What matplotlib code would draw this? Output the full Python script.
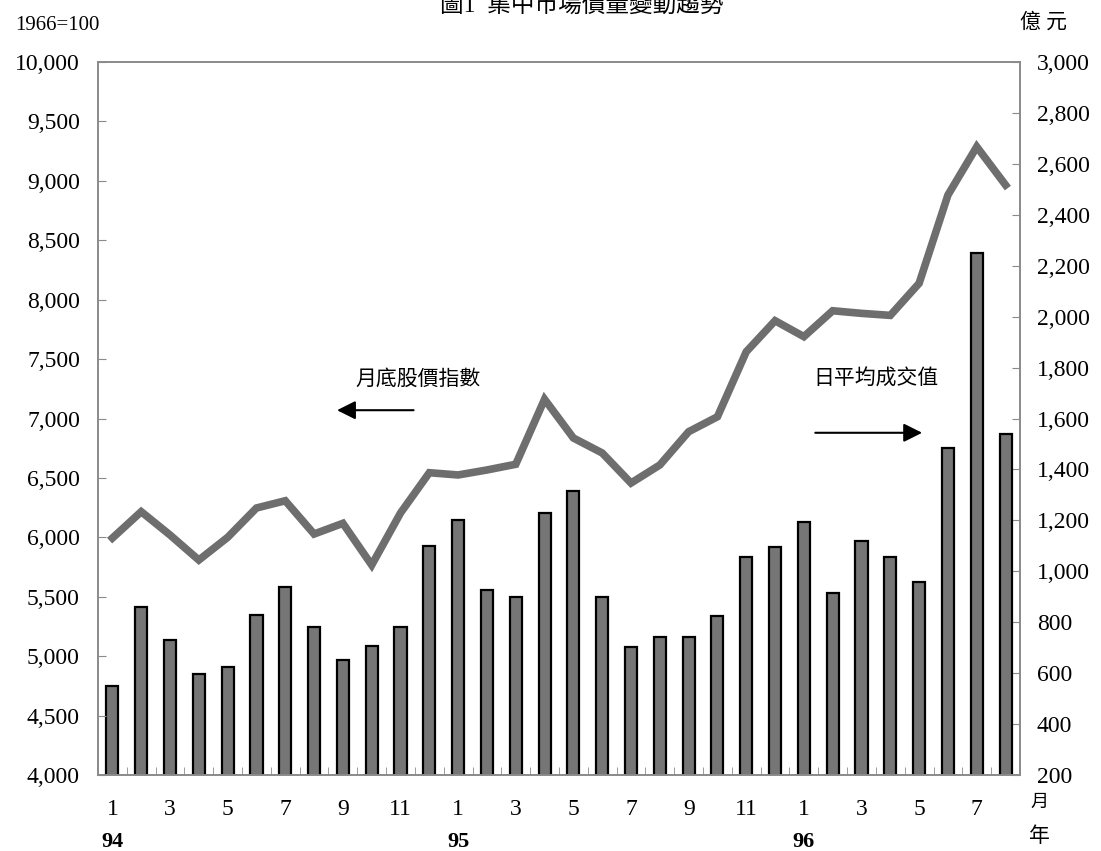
import numpy as np
import matplotlib
matplotlib.use("Agg")
import matplotlib.pyplot as plt
import matplotlib.ticker as ticker
import matplotlib.transforms as transforms

plt.rcParams['font.family'] = ['Liberation Serif', 'Noto Sans CJK TC']

# 94/1 - 96/8 monthly data
months = [1, 2, 3, 4, 5, 6, 7, 8, 9, 10, 11, 12] * 2 + [1, 2, 3, 4, 5, 6, 7, 8]
years = ['94', '95', '96']
# month-end stock price index (1966=100), left axis
index_close = [5994, 6216, 6020, 5809, 6000, 6247, 6308, 6028, 6118, 5767, 6205, 6544,
               6525, 6567, 6615, 7162, 6836, 6710, 6457, 6609, 6889, 7015, 7562, 7823,
               7689, 7907, 7885, 7868, 8138, 8881, 9287, 8965]
# average daily trading value (100 million NT$), right axis
daily_value = [550, 861, 730, 597, 623, 828, 940, 782, 652, 708, 782, 1100,
               1201, 926, 898, 1228, 1317, 898, 701, 741, 743, 824, 1057, 1097,
               1194, 913, 1118, 1057, 958, 1483, 2250, 1539]

x = np.arange(len(months))
gray_axis = '#8a8a8a'

fig = plt.figure(figsize=(11.01, 8.51), dpi=100)
ax = fig.add_axes([0.089, 0.0893, 0.8374, 0.8378])
ax2 = ax.twinx()

# bars on right axis, line on left axis drawn on top
ax2.bar(x, daily_value, width=0.42, color='#767676', edgecolor='black', linewidth=1.6, zorder=2)
ax.plot(x, index_close, color='#6e6e6e', linewidth=5.5, solid_joinstyle='miter', zorder=3)
ax.set_zorder(ax2.get_zorder() + 1)
ax.patch.set_visible(False)

ax.set_xlim(-0.5, len(months) - 0.5)
ax.set_ylim(4000, 10000)
ax2.set_ylim(200, 3000)
ax.yaxis.set_major_locator(ticker.MultipleLocator(500))
ax2.yaxis.set_major_locator(ticker.MultipleLocator(200))
fmt = ticker.FuncFormatter(lambda v, p: '{:,.0f}'.format(v))
ax.yaxis.set_major_formatter(fmt)
ax2.yaxis.set_major_formatter(fmt)

for a in (ax, ax2):
    for s in a.spines.values():
        s.set_color(gray_axis)
        s.set_linewidth(1.2)

ax.tick_params(axis='y', direction='in', length=6, color=gray_axis, labelsize=17, pad=13)
ax2.tick_params(axis='y', direction='in', length=6, color=gray_axis, labelsize=17, pad=12)

# odd-month labels, minor ticks between bars
ax.set_xticks(x[::2])
ax.set_xticklabels([str(m) for m in months[::2]])
ax.tick_params(axis='x', length=0, labelsize=17, pad=17)
ax.set_xticks(np.arange(-0.5, len(months), 1.0), minor=True)
ax.tick_params(axis='x', which='minor', direction='in', length=6, color=gray_axis)

trans = transforms.blended_transform_factory(ax.transData, ax.transAxes)
for i, yr in zip([0, 12, 24], years):
    ax.text(i, -0.094, yr, transform=trans, ha='center', va='center',
            fontsize=16, fontweight='bold')

fig.text(0.944, 0.057, '月', ha='center', va='center', fontsize=13)
fig.text(0.944, 0.016, '年', ha='center', va='center', fontsize=15)
fig.text(0.052, 0.970, '1966=100', ha='center', va='center', fontsize=15)
fig.text(0.948, 0.973, '億 元', ha='center', va='center', fontsize=15)
fig.text(0.528, 0.993, '圖1  集中市場價量變動趨勢', ha='center', va='center', fontsize=17)

# series annotations with direction arrows
ax.text(10.6, 7330, '月底股價指數', ha='center', va='center', fontsize=15)
ax.annotate('', xy=(7.7, 7070), xytext=(10.55, 7070),
            arrowprops=dict(arrowstyle='-|>', color='black', lw=1.5, mutation_scale=28))
ax.text(26.5, 7330, '日平均成交值', ha='center', va='center', fontsize=15)
ax.annotate('', xy=(28.2, 6880), xytext=(24.3, 6880),
            arrowprops=dict(arrowstyle='-|>', color='black', lw=1.5, mutation_scale=28))

fig.savefig('out.png', dpi=100)
